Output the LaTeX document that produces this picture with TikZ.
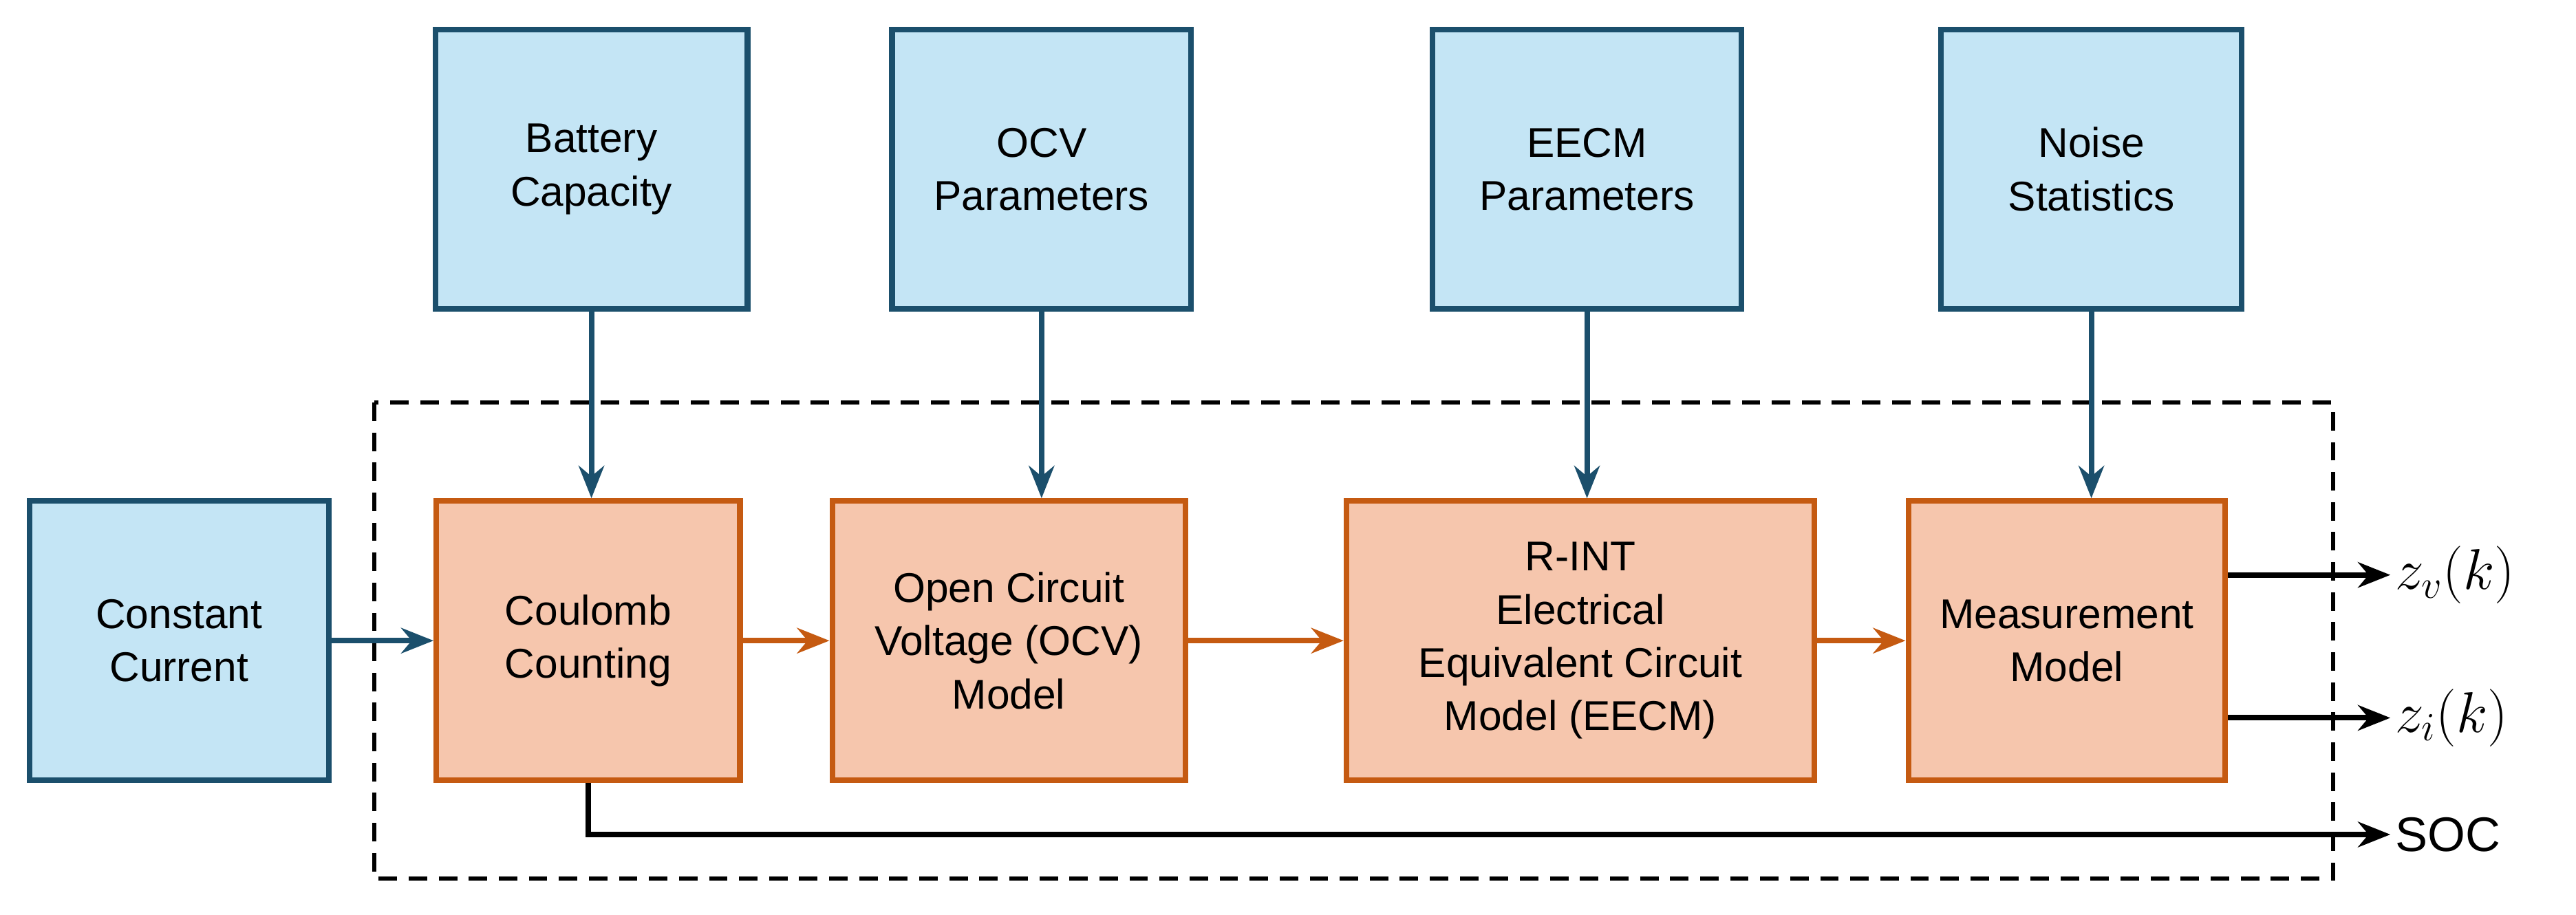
\documentclass[tikz,border=0pt]{standalone}
\usepackage{fontspec}
\setmainfont{Liberation Sans}
\usetikzlibrary{arrows.meta}
\definecolor{bfill}{HTML}{C4E5F5}
\definecolor{bdraw}{HTML}{1B4F6C}
\definecolor{ofill}{HTML}{F6C6AD}
\definecolor{odraw}{HTML}{C55A11}
\begin{document}
\begin{tikzpicture}[x=0.025cm,y=-0.025cm,
 blue/.style={draw=bdraw,fill=bfill,line width=2.4pt,align=center,font=\fontsize{18}{23}\selectfont},
 org/.style={draw=odraw,fill=ofill,line width=2.4pt,align=center,font=\fontsize{18}{23}\selectfont},
 barr/.style={draw=bdraw,line width=2.4pt,-{Stealth[length=14pt,width=11pt]}},
 oarr/.style={draw=odraw,line width=2.4pt,-{Stealth[length=14pt,width=11pt]}},
 karr/.style={draw=black,line width=2.4pt,-{Stealth[length=14pt,width=11pt]}}]
\useasboundingbox (0,0) rectangle (1568,557);
\draw[line width=1.8pt,dash pattern=on 8pt off 5pt] (228,245) rectangle (1420,535);
\node[blue,minimum width=4.75cm,minimum height=4.25cm] (bc) at (360,103) {Battery\\Capacity};
\node[blue,minimum width=4.55cm,minimum height=4.25cm] (op) at (634,103) {OCV\\Parameters};
\node[blue,minimum width=4.7cm,minimum height=4.25cm] (ep) at (966,103) {EECM\\Parameters};
\node[blue,minimum width=4.58cm,minimum height=4.25cm] (ns) at (1273,103) {Noise\\Statistics};
\node[blue,minimum width=4.55cm,minimum height=4.25cm] (cc) at (109,390) {Constant\\Current};
\node[org,minimum width=4.62cm,minimum height=4.25cm] (cou) at (358,390) {Coulomb\\Counting};
\node[org,minimum width=5.37cm,minimum height=4.25cm] (ocv) at (614,390) {Open Circuit\\Voltage (OCV)\\Model};
\node[org,minimum width=7.12cm,minimum height=4.25cm] (rint) at (962,390) {R-INT\\Electrical\\Equivalent Circuit\\Model (EECM)};
\node[org,minimum width=4.82cm,minimum height=4.25cm] (mm) at (1258,390) {Measurement\\Model};
\draw[barr] (bc.south) -- (bc.south |- cou.north);
\draw[barr] (op.south) -- (op.south |- ocv.north);
\draw[barr] (ep.south) -- (ep.south |- rint.north);
\draw[barr] (ns.south) -- (ns.south |- mm.north);
\draw[barr] (cc) -- (cou);
\draw[oarr] (cou) -- (ocv);
\draw[oarr] (ocv) -- (rint);
\draw[oarr] (rint) -- (mm);
\coordinate (zv) at (1455,350);
\coordinate (zi) at (1455,437);
\coordinate (soc) at (1455,508);
\draw[karr] (mm.east |- zv) -- (zv);
\draw[karr] (mm.east |- zi) -- (zi);
\draw[karr] (cou.south) |- (soc);
\node[anchor=west,inner sep=2pt,font=\fontsize{27}{30}\selectfont] (lzv) at (zv) {$z_v(k)$};
\node[anchor=west,inner sep=2pt,font=\fontsize{27}{30}\selectfont] (lzi) at (zi) {$z_i(k)$};
\node[anchor=west,inner sep=2pt,font=\fontsize{21}{24}\selectfont] (lsoc) at (soc) {SOC};
\end{tikzpicture}
\end{document}
